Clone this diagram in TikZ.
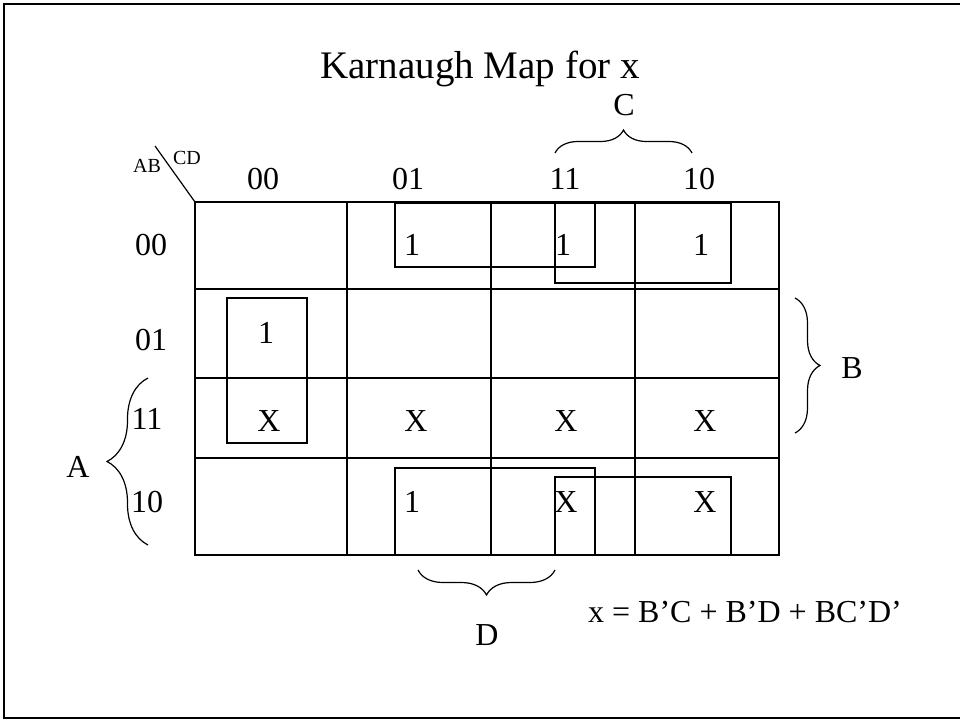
\documentclass[tikz,border=0pt]{standalone}
\usepackage{fontspec}
\setmainfont{Liberation Serif}
\usetikzlibrary{decorations.pathreplacing}

\begin{document}
\begin{tikzpicture}[x=1pt,y=-1pt]
  \tikzstyle{entry}=[inner sep=0pt, font=\fontsize{32}{38}\selectfont]
  \tikzstyle{small}=[inner sep=0pt, font=\fontsize{20}{24}\selectfont]
  \tikzstyle{grid}=[line width=2pt]
  \tikzstyle{group}=[line width=1.3pt]
  \tikzstyle{brace}=[line width=1.2pt, decorate, decoration={brace, amplitude=#1}]

  \useasboundingbox (0,0) rectangle (960,721);
  \draw[line width=2pt] (960,4) -| (4,718) -- (960,718);

  \node[anchor=base, inner sep=0pt, font=\fontsize{39}{46}\selectfont] (title) at (480,78) {Karnaugh Map for x};

  % the map
  \draw[grid] (195,202) rectangle (779,555);
  \foreach \x in {347,491,635} \draw[grid] (\x,202) -- (\x,555);
  \foreach \y in {289,378,458} \draw[grid] (195,\y) -- (779,\y);

  % loops
  \draw[group] (395,203) rectangle (595,267);
  \draw[group] (555,203) rectangle (731,283);
  \draw[group] (227,298) rectangle (307,443);
  \draw[group] (395,468) rectangle (595,555);
  \draw[group] (555,477) rectangle (731,555);

  % headings
  \coordinate (corner) at (195,202);
  \coordinate (slash) at (155,146);
  \draw[line width=1.2pt] (slash) -- (corner);
  \node[small] (ab) at (147,166) {AB};
  \node[small] (cd) at (187,158) {CD};
  \foreach \x/\t in {263/00, 408/01, 565/11, 699/10}
    \node[entry] (col\t) at (\x,179) {\t};
  \foreach \y/\t/\x in {245/00/151, 340/01/151, 419/11/147, 502/10/147}
    \node[entry] (row\t) at (\x,\y) {\t};

  % cells
  \foreach \x/\y/\v in {412/245/1, 563/245/1, 701/245/1, 266/333/1,
      269/421/X, 416/421/X, 566/421/X, 705/421/X,
      412/502/1, 566/502/X, 705/502/X}
    \node[entry] (v-\x-\y) at (\x,\y) {\v};

  % variables
  \coordinate (c1) at (555,153);  \coordinate (c2) at (692,153);
  \coordinate (d1) at (555,570);  \coordinate (d2) at (418,570);
  \coordinate (a1) at (148,545);  \coordinate (a2) at (148,378);
  \coordinate (b1) at (795,298);  \coordinate (b2) at (795,433);
  \draw[brace=23pt] (c1) -- (c2);
  \draw[brace=25pt] (d1) -- (d2);
  \draw[brace=41pt] (a1) -- (a2);
  \draw[brace=25pt] (b1) -- (b2);
  \node[entry] (C) at (624,105) {C};
  \node[entry] (D) at (487,635) {D};
  \node[entry] (A) at (78,467) {A};
  \node[entry] (B) at (852,368) {B};

  \node[entry] (eqn) at (745,612) {x = B’C + B’D + BC’D’};
\end{tikzpicture}
\end{document}
